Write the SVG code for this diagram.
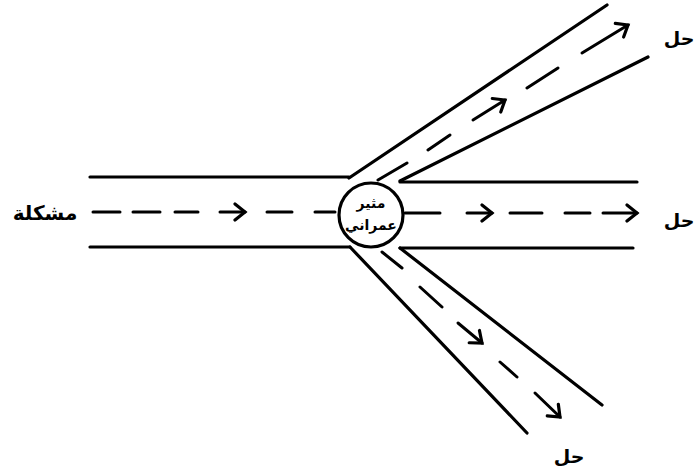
<svg xmlns="http://www.w3.org/2000/svg" width="695" height="474" viewBox="0 0 695 474">
<style>
.ln{stroke:#000;stroke-width:3.2;fill:none;stroke-linecap:round}
.ds{stroke:#000;stroke-width:3;fill:none;stroke-linecap:round}
.ar{stroke:#000;stroke-width:3;fill:none;stroke-linecap:round;marker-end:url(#ah)}
.t{font-family:"DejaVu Sans",sans-serif;font-weight:bold;fill:#000;direction:rtl;text-anchor:middle}
</style>
<defs>
<marker id="ah" markerUnits="userSpaceOnUse" markerWidth="20" markerHeight="20" viewBox="-12 -10 14 20" refX="0" refY="0" orient="auto">
<path d="M-10,-8 L0,0 L-10,8" stroke="#000" stroke-width="3.2" fill="none" stroke-linecap="round" stroke-linejoin="miter"/>
</marker>
</defs>
<g id="connectors">
<path class="ln" d="M90,177 H349 M90,247 H350 M400,182 H637 M400,248 H633"/>
<path class="ln" d="M349,178 L607,5 M400,181 L648,57"/>
<path class="ln" d="M350,247 L527,433 M400,248 L602,405"/>
<path class="ds" d="M93,212 H120 M133,212 H160 M175,212 H198 M267,212 H292 M315,212 H335"/>
<path class="ar" d="M220,212 H245"/>
<path class="ds" d="M405,213 H440 M510,213 H542 M565,213 H590"/>
<path class="ar" d="M467,213 H492"/>
<path class="ar" d="M603,213 H637"/>
<path class="ds" d="M378,180 L407,163 M428,150 L450,135 M527,88 L558,68"/>
<path class="ar" d="M473,120 L505,100"/>
<path class="ar" d="M582,53 L628,25"/>
<path class="ds" d="M382,252 L402,268 M420,287 L442,307 M500,362 L517,377"/>
<path class="ar" d="M458,323 L482,343"/>
<path class="ar" d="M535,393 L560,417"/>
</g>
<g id="hub">
<circle cx="371" cy="215" r="32" fill="#fff" stroke="#000" stroke-width="3.2"/>
<text class="t" x="371" y="208" font-size="14">مثير</text>
<text class="t" x="371" y="230" font-size="14">عمراني</text>
</g>
<g id="problem"><text class="t" x="45" y="220" font-size="20">مشكلة</text></g>
<g id="sol1"><text class="t" x="679" y="45" font-size="19">حل</text></g>
<g id="sol2"><text class="t" x="679" y="227" font-size="19">حل</text></g>
<g id="sol3"><text class="t" x="569" y="463" font-size="19">حل</text></g>
</svg>
